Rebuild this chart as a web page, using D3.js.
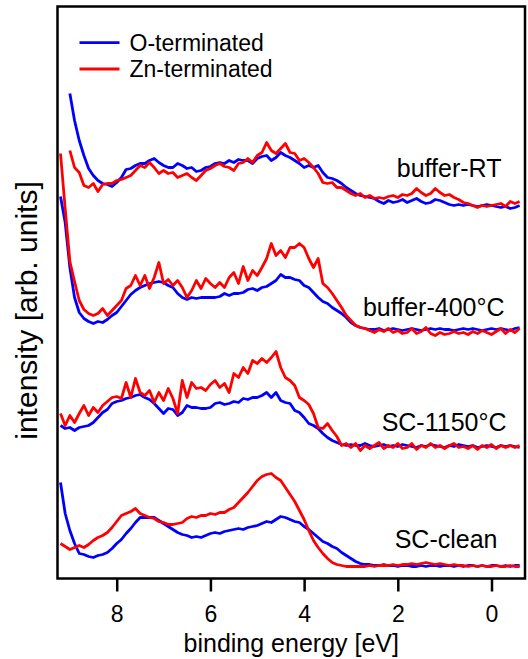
<!DOCTYPE html>
<html>
<head>
<meta charset="utf-8">
<script src="https://cdn.jsdelivr.net/npm/d3@7"></script>
<style>
  body { margin: 0; background: #fff; }
  text { font-family: "Liberation Sans", Arial, sans-serif; fill: #000; }
</style>
</head>
<body>
<div id="chart-area"></div>
<script>

// binding energy grid [eV]
const energies = [
  9.2, 9.1, 9.0, 8.9, 8.8, 8.7, 8.6, 8.5, 8.4, 8.3,
  8.2, 8.1, 8.0, 7.9, 7.8, 7.7, 7.6, 7.5, 7.4, 7.3,
  7.2, 7.1, 7.0, 6.9, 6.8, 6.7, 6.6, 6.5, 6.4, 6.3,
  6.2, 6.1, 6.0, 5.9, 5.8, 5.7, 5.6, 5.5, 5.4, 5.3,
  5.2, 5.1, 5.0, 4.9, 4.8, 4.7, 4.6, 4.5, 4.4, 4.3,
  4.2, 4.1, 4.0, 3.9, 3.8, 3.7, 3.6, 3.5, 3.4, 3.3,
  3.2, 3.1, 3.0, 2.9, 2.8, 2.7, 2.6, 2.5, 2.4, 2.3,
  2.2, 2.1, 2.0, 1.9, 1.8, 1.7, 1.6, 1.5, 1.4, 1.3,
  1.2, 1.1, 1.0, 0.9, 0.8, 0.7, 0.6, 0.5, 0.4, 0.3,
  0.2, 0.1, 0.0, -0.1, -0.2, -0.3, -0.4, -0.5, -0.6
];

const xTicks = [8, 6, 4, 2, 0];
const seriesNames = ['O-terminated', 'Zn-terminated'];
const spectrumLabels = ['buffer-RT', 'buffer-400°C', 'SC-1150°C', 'SC-clean'];

// intensities (arb. units, spectra already offset)
const oBufferRT = [
  null, null, 485, 458, 438, 423, 410, 403, 398, 395,
  394, 392, 396, 401, 409, 410, 413, 415, 415, 418,
  420, 416, 413, 411, 411, 415, 413, 410, 411, 407,
  408, 411, 412, 415, 416, 415, 418, 416, 419, 418,
  418, 415, 420, 422, 423, 418, 421, 426, 423, 421,
  418, 415, 411, 413, 411, 413, 406, 401, 400, 398,
  395, 391, 388, 385, 383, 382, 381, 380, 377, 375,
  378, 376, 377, 379, 376, 378, 380, 377, 375, 376,
  379, 378, 376, 374, 373, 374, 373, 374, 373, 372,
  373, 374, 373, 372, 371, 372, 370, 371, 373
];
const znBufferRT = [
  null, null, 428, 411, 406, 393, 391, 395, 387, 394,
  395, 395, 398, 399, 401, 403, 408, 413, 411, 416,
  411, 405, 408, 405, 406, 401, 403, 405, 401, 398,
  403, 408, 410, 413, 415, 412, 411, 408, 415, 416,
  420, 416, 423, 426, 436, 428, 425, 430, 435, 426,
  425, 418, 420, 416, 411, 405, 396, 395, 396, 391,
  391, 388, 385, 383, 385, 381, 383, 380, 381, 380,
  382, 383, 381, 384, 383, 385, 390, 386, 383, 385,
  390, 386, 383, 384, 381, 379, 376, 375, 373, 371,
  373, 372, 373, 374, 375, 372, 377, 375, 377
];
const oBuffer400 = [
  382, 356, 311, 281, 266, 260, 257, 255, 257, 256,
  259, 263, 266, 272, 278, 284, 288, 291, 293, 295,
  296, 297, 296, 293, 291, 285, 281, 279, 281, 280,
  281, 281, 281, 281, 282, 285, 283, 285, 285, 286,
  289, 290, 288, 291, 292, 295, 298, 304, 301, 301,
  299, 298, 293, 291, 286, 281, 277, 275, 271, 268,
  265, 261, 256, 253, 251, 250, 249, 249, 250, 248,
  249, 250, 249, 248, 249, 250, 249, 248, 249, 250,
  249, 250, 249, 249, 248, 249, 250, 249, 250, 249,
  248, 249, 250, 249, 250, 249, 248, 250, 251
];
const znBuffer400 = [
  425, 370, 317, 297, 278, 269, 265, 263, 265, 270,
  263, 268, 273, 278, 290, 293, 303, 293, 303, 290,
  301, 316, 295, 299, 293, 298, 291, 281, 288, 298,
  290, 300, 295, 291, 296, 291, 301, 306, 295, 312,
  298, 308, 303, 311, 320, 335, 323, 328, 321, 331,
  331, 335, 331, 320, 311, 320, 295, 291, 285, 278,
  271, 263, 258, 253, 251, 250, 248, 246, 249, 247,
  250, 246, 248, 245, 246, 250, 245, 247, 251, 245,
  243, 246, 244, 245, 247, 245, 246, 244, 247, 245,
  248, 246, 244, 247, 250, 245, 249, 246, 250
];
const oSC1150 = [
  153, 150, 151, 148, 151, 152, 153, 156, 161, 166,
  169, 175, 177, 178, 180, 181, 183, 184, 181, 179,
  175, 170, 165, 170, 169, 163, 166, 173, 171, 171,
  170, 170, 171, 175, 176, 174, 175, 177, 176, 180,
  179, 181, 181, 183, 186, 181, 186, 178, 176, 175,
  168, 166, 161, 155, 153, 150, 145, 141, 138, 136,
  134, 133, 134, 133, 133, 135, 133, 132, 133, 134,
  132, 133, 132, 134, 133, 132, 131, 133, 132, 134,
  133, 132, 131, 133, 132, 134, 133, 132, 133, 131,
  132, 133, 132, 131, 133, 132, 133, 132, 131
];
const znSC1150 = [
  165, 153, 163, 156, 165, 173, 163, 171, 166, 173,
  177, 181, 182, 180, 196, 181, 200, 186, 183, 188,
  176, 186, 178, 190, 180, 165, 198, 181, 196, 190,
  191, 188, 194, 198, 191, 195, 186, 205, 201, 211,
  205, 218, 215, 220, 216, 221, 227, 211, 201, 198,
  193, 181, 178, 174, 165, 151, 150, 155, 148, 142,
  133, 135, 131, 135, 128, 133, 130, 133, 136, 130,
  133, 131, 135, 130, 131, 135, 129, 133, 131, 135,
  131, 133, 130, 133, 135, 131, 132, 130, 133, 129,
  133, 131, 134, 130, 133, 131, 133, 131, 133
];
const oSCclean = [
  96, 65, 48, 35, 25, 24, 22, 21, 23, 24,
  26, 30, 35, 39, 45, 50, 56, 61, 61, 61,
  61, 58, 55, 52, 49, 46, 44, 43, 41, 42,
  41, 43, 45, 46, 45, 47, 48, 49, 50, 49,
  51, 52, 53, 55, 57, 56, 59, 62, 61, 59,
  57, 56, 52, 49, 45, 41, 37, 35, 32, 30,
  26, 23, 20, 17, 15, 14, 14, 13, 13, 14,
  13, 13, 12, 13, 13, 12, 12, 13, 12, 13,
  13, 12, 13, 13, 12, 13, 12, 13, 13, 12,
  13, 12, 13, 13, 12, 13, 12, 13, 13
];
const znSCclean = [
  35, 32, 29, 31, 33, 31, 34, 38, 41, 43,
  46, 51, 57, 63, 65, 67, 70, 65, 63, 61,
  60, 57, 56, 54, 54, 55, 56, 60, 62, 61,
  63, 63, 65, 64, 66, 66, 69, 71, 76, 81,
  86, 92, 98, 102, 104, 105, 101, 98, 91, 84,
  77, 68, 59, 48, 38, 31, 25, 20, 16, 14,
  13, 12, 12, 12, 12, 12, 13, 12, 13, 13,
  13, 14, 13, 14, 14, 15, 14, 15, 16, 15,
  14, 15, 14, 13, 14, 13, 13, 12, 13, 12,
  13, 12, 12, 13, 12, 12, 13, 12, 12
];

const spectraO = [oBufferRT, oBuffer400, oSC1150, oSCclean];
const spectraZn = [znBufferRT, znBuffer400, znSC1150, znSCclean];

const colors = ['#0000ff', '#ff0000'];

const margin = { top: 6.5, right: 3, bottom: 80.5, left: 57.5 };
const widthSvg = 528;
const heightSvg = 659;
const widthChart = widthSvg - margin.left - margin.right;
const heightChart = heightSvg - margin.top - margin.bottom;

const scaleX = d3.scaleLinear()
  .domain([9.264, -0.715])
  .range([0, widthChart]);

const scaleY = d3.scaleLinear()
  .domain([0, 572])
  .range([heightChart, 0]);

const svg = d3.select('#chart-area').append('svg')
  .attr('width', widthSvg)
  .attr('height', heightSvg);

const chart = svg.append('g')
  .attr('transform', `translate(${margin.left}, ${margin.top})`);

const line = d3.line()
  .defined(d => d[1] !== null)
  .x(d => scaleX(d[0]))
  .y(d => scaleY(d[1]));

// O first, Zn on top
spectraO.forEach((vals, i) => {
  [vals, spectraZn[i]].forEach((v, k) => {
    chart.append('path')
      .datum(energies.map((e, j) => [e, v[j]]))
      .attr('d', line)
      .attr('fill', 'none')
      .attr('stroke', colors[k])
      .attr('stroke-width', 2.8)
      .attr('stroke-linejoin', 'round');
  });
});

// spectrum names, right aligned
const labelPos = [[444, 170], [447, 309], [449, 424], [440, 541]];
spectrumLabels.forEach((t, i) => {
  chart.append('text')
    .text(t)
    .attr('x', labelPos[i][0])
    .attr('y', labelPos[i][1])
    .attr('text-anchor', 'end')
    .attr('font-size', '25px');
});

// legend
seriesNames.forEach((t, i) => {
  const ly = 36.2 + i * 26.3;
  chart.append('line')
    .attr('x1', 22).attr('x2', 62)
    .attr('y1', ly).attr('y2', ly)
    .attr('stroke', colors[i])
    .attr('stroke-width', 2.8);
  chart.append('text')
    .text(t)
    .attr('x', 72)
    .attr('y', ly + 8)
    .attr('font-size', '23px');
});

// frame
chart.append('rect')
  .attr('width', widthChart)
  .attr('height', heightChart)
  .attr('fill', 'none')
  .attr('stroke', '#000')
  .attr('stroke-width', 2.5);

const axisX = d3.axisBottom(scaleX)
  .tickValues(xTicks)
  .tickFormat(d3.format('d'))
  .tickSize(13)
  .tickPadding(14);

const axisGroupX = chart.append('g')
  .attr('transform', `translate(0, ${heightChart})`)
  .call(axisX);

axisGroupX.select('.domain').remove();
axisGroupX.selectAll('line')
  .attr('stroke', '#000')
  .attr('stroke-width', 2.5);
axisGroupX.selectAll('text')
  .attr('font-size', '23px')
  .attr('font-family', '"Liberation Sans", Arial, sans-serif');

chart.append('text')
  .text('binding energy [eV]')
    .attr('transform', `translate(${widthChart / 2}, ${heightChart + 73})`)
    .attr('text-anchor', 'middle')
    .attr('font-size', '25px');

chart.append('text')
  .text('intensity [arb. units]')
    .attr('transform', `translate(-21, ${heightChart / 2 + 18})rotate(-90)`)
    .attr('text-anchor', 'middle')
    .attr('font-size', '30px');

</script>
</body>
</html>
